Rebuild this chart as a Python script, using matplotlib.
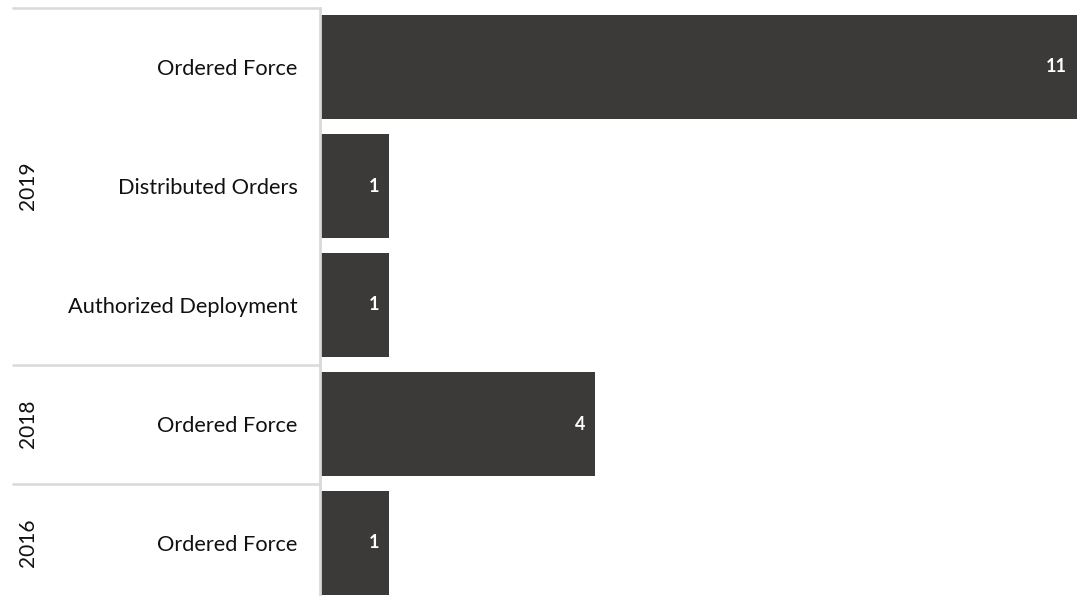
import matplotlib
matplotlib.use('Agg')
import matplotlib.pyplot as plt
from matplotlib.lines import Line2D

# grouped categories, top to bottom
years = ['2019', '2019', '2019', '2018', '2016']
actions = ['Ordered Force', 'Distributed Orders', 'Authorized Deployment',
           'Ordered Force', 'Ordered Force']
counts = [11, 1, 1, 4, 1]
year_groups = ['2019', '2018', '2016']

W, H = 1077, 596
BAR = '#3b3a39'
LINE = '#d9d9d9'
TEXT = '#111111'

plt.rcParams['font.family'] = ['Lato', 'DejaVu Sans']

fig = plt.figure(figsize=(W / 100, H / 100), dpi=100)
slot = 119
top = 7.5
ax = fig.add_axes([320 / W, (H - top - slot * len(counts)) / H,
                   (W - 320) / W, slot * len(counts) / H])

pos = list(range(len(counts)))
ax.barh(pos, counts, height=0.88, color=BAR)
ax.set_xlim(0, max(counts))
ax.set_ylim(len(counts) - 0.5, -0.5)

for y, v in zip(pos, counts):
    ax.annotate(str(v), (v, y), xytext=(-7, 0), textcoords='offset points',
                ha='right', va='center', color='white', fontsize=13,
                fontweight='bold')

ax.set_yticks(pos)
ax.set_yticklabels(actions, fontsize=15.7, color=TEXT)
ax.tick_params(axis='y', length=0, pad=16)
ax.set_xticks([])
for s in ['top', 'right', 'bottom']:
    ax.spines[s].set_visible(False)
ax.spines['left'].set_color(LINE)
ax.spines['left'].set_linewidth(2)

# group separators (figure pixels) and year labels in the left margin
trans = ax.get_yaxis_transform()
span = W - 320
for g in year_groups:
    idx = [i for i, yr in enumerate(years) if yr == g]
    lo, hi = idx[0] - 0.5, idx[-1] + 0.5
    y_fig = fig.transFigure.inverted().transform(
        ax.transData.transform((0, lo)))[1]
    fig.add_artist(Line2D([12 / W, 320 / W], [y_fig, y_fig],
                          transform=fig.transFigure, color=LINE, lw=1.8,
                          solid_capstyle='butt'))
    ax.text((28 - 320) / span, (lo + hi) / 2, g,
            transform=trans, rotation=90, ha='center', va='center',
            fontsize=15, color=TEXT, clip_on=False)

fig.savefig('out.png', dpi=100)
